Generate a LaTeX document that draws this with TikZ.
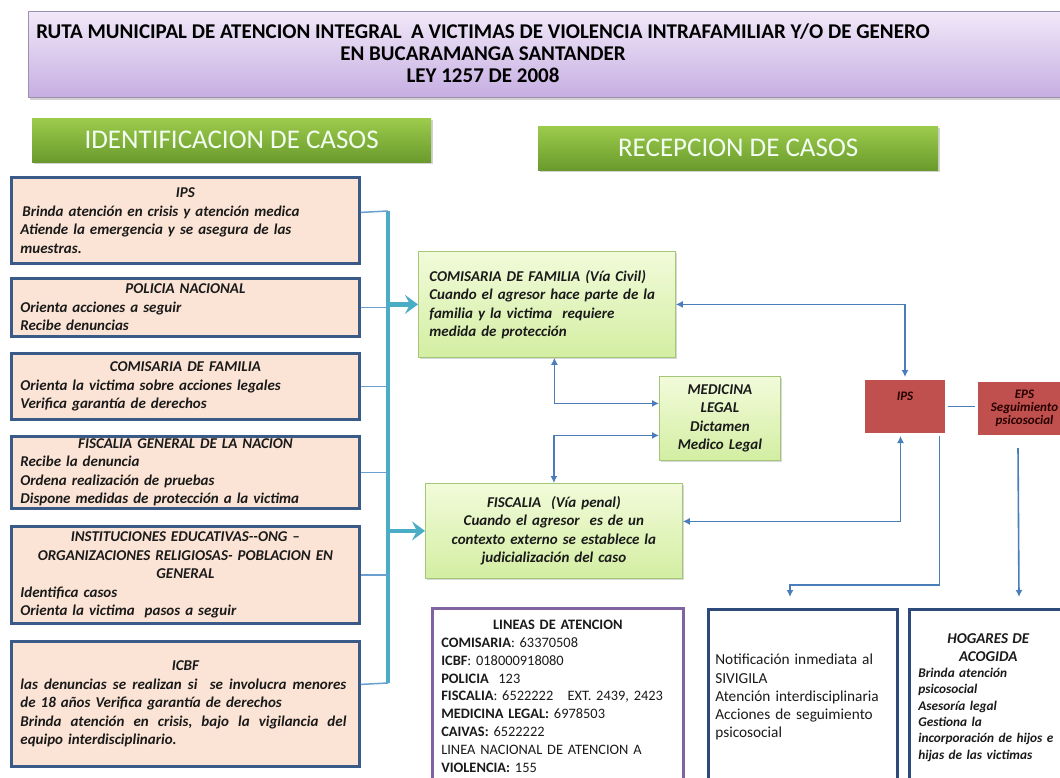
\documentclass[tikz,border=0pt]{standalone}
\usepackage{fontspec}
\setmainfont{Carlito}
\usetikzlibrary{arrows.meta,shadows,calc}
\definecolor{ttop}{HTML}{F1E8F8}
\definecolor{tbot}{HTML}{C6AEE2}
\definecolor{tborder}{HTML}{9C90AE}
\definecolor{gtop}{HTML}{9CCB4C}
\definecolor{gbot}{HTML}{6A9A2C}
\definecolor{peach}{HTML}{FBE4D5}
\definecolor{pborder}{HTML}{3A5A88}
\definecolor{ltop}{HTML}{F2FBDA}
\definecolor{lbot}{HTML}{D3EEA2}
\definecolor{lborder}{HTML}{A3C777}
\definecolor{redbox}{HTML}{C0504D}
\definecolor{cblue}{HTML}{4A7EBB}
\definecolor{teal}{HTML}{4BACC6}
\definecolor{lconnc}{HTML}{6A9FCF}
\definecolor{purpleb}{HTML}{8064A2}
\definecolor{navyb}{HTML}{2E4A7A}
\definecolor{txt}{HTML}{1A1A1A}
\begin{document}
\begin{tikzpicture}[x=1pt,y=-1pt,
  titlebox/.style={draw=tborder, line width=1.2pt, top color=ttop, bottom color=tbot, anchor=north west,
    drop shadow={shadow xshift=1.5pt, shadow yshift=-2pt, opacity=0.35}},
  banner/.style={top color=gtop, bottom color=gbot, anchor=north west, text=white!95!green,
    font=\fontsize{27}{30}\selectfont, drop shadow={shadow xshift=1.5pt, shadow yshift=-2pt, opacity=0.35}},
  pbox/.style={draw=pborder, line width=2.8pt, fill=peach, anchor=north west, minimum width=348pt,
    text width=330pt, inner xsep=9pt, inner ysep=2pt, align=left, text=txt,
    font=\fontsize{15}{18.5}\selectfont\bfseries\itshape},
  gbox/.style={draw=lborder, line width=0.8pt, top color=ltop, bottom color=lbot, anchor=north west,
    text=txt, font=\fontsize{15}{18.5}\selectfont\bfseries\itshape,
    drop shadow={shadow xshift=1.5pt, shadow yshift=-2pt, opacity=0.3}},
  rbox/.style={fill=redbox, draw=white, line width=3pt, anchor=north west, text=black!85!red,
    font=\fontsize{13}{13}\selectfont\bfseries\itshape, align=center,
    drop shadow={shadow xshift=1pt, shadow yshift=-1.5pt, opacity=0.35}},
  wbox/.style={line width=2.6pt, fill=white, anchor=north west, text=txt},
  conn/.style={draw=cblue, line width=1.6pt},
  arr/.style={-{Latex[length=7pt,width=7pt]}},
  darr/.style={{Latex[length=7pt,width=7pt]}-{Latex[length=7pt,width=7pt]}},
  lconn/.style={draw=lconnc, line width=1.5pt},
  bar/.style={draw=teal, line width=4.5pt},
  bigarr/.style={draw=teal, line width=4.5pt, -{Stealth[length=13pt,width=19pt,inset=5pt]}}
]
\useasboundingbox (0,0) rectangle (1060,777);
\clip (0,0) rectangle (1060,777);
\fill[white] (0,0) rectangle (1060,777);

% title
\node[titlebox, minimum width=1045pt, minimum height=86pt] (title) at (28,11) {};
\node[font=\fontsize{21}{22}\selectfont\bfseries, align=center, text=black] (ttext) at (483,53)
  {RUTA MUNICIPAL DE ATENCION INTEGRAL\ \ A VICTIMAS DE VIOLENCIA INTRAFAMILIAR Y/O DE GENERO\\
   EN BUCARAMANGA SANTANDER\\ LEY 1257 DE 2008};

% banners
\node[banner, minimum width=399pt, minimum height=44pt] (idban) at (32,118) {IDENTIFICACION DE CASOS};
\node[banner, minimum width=400pt, minimum height=44pt] (recban) at (538,126) {RECEPCION DE CASOS};

% left boxes
\node[pbox, minimum height=86pt] (b1) at (10,176)
  {{\centering IPS\par}\hspace*{2pt}Brinda atención en crisis y atención medica\\
   Atiende la emergencia y se asegura de las\\ muestras.};
\node[pbox, minimum height=58pt] (b2) at (10,277)
  {{\centering POLICIA NACIONAL\par}Orienta acciones a seguir\\ Recibe denuncias};
\node[pbox, minimum height=66pt] (b3) at (10,352)
  {{\centering COMISARIA DE FAMILIA\par}Orienta la victima sobre acciones legales\\ Verifica garantía de derechos};
\node[pbox, minimum height=72pt] (b4) at (10,435)
  {{\centering FISCALIA GENERAL DE LA NACION\par}Recibe la denuncia\\ Ordena realización de pruebas\\
   Dispone medidas de protección a la victima};
\node[pbox, minimum height=97pt] (b5) at (10,525)
  {{\centering INSTITUCIONES EDUCATIVAS-{}-ONG –\\ ORGANIZACIONES RELIGIOSAS- POBLACION EN\\ GENERAL\par}
   Identifica casos\\ Orienta la victima\ \ pasos a seguir};
\node[pbox, minimum height=125pt] (b6) at (10,640)
  {{\centering ICBF\par}\hbox to 326pt{las\hfill denuncias\hfill se\hfill realizan\hfill si\hfill\hfill se\hfill involucra\hfill menores}
   de 18 años Verifica garantía de derechos\\
   \hbox to 326pt{Brinda\hfill atención\hfill en\hfill crisis,\hfill bajo\hfill la\hfill vigilancia\hfill del}
   equipo interdisciplinario.};

% bar and connectors
\coordinate (bartop) at (388,211);
\coordinate (barbot) at (388,683);
\draw[bar] (bartop) -- (barbot);
\draw[lconn] ([yshift=8pt]b1.east) -- (bartop);
\draw[lconn] (b2.east) -- (b2.east -| bartop);
\draw[lconn] (b3.east) -- (b3.east -| bartop);
\draw[lconn] (b4.east) -- (b4.east -| bartop);
\draw[lconn] (b5.east) -- (b5.east -| bartop);
\draw[lconn] ([yshift=19.5pt]b6.east) -- (barbot);

% green boxes
\node[gbox, minimum width=257pt, minimum height=106pt, text width=235pt, inner xsep=11pt, align=left] (com) at (418,251)
  {COMISARIA DE FAMILIA (Vía Civil)\\ Cuando el agresor hace parte de la\\ familia y la victima\ \ requiere\\ medida de protección};
\node[gbox, minimum width=257pt, minimum height=95pt, text width=241pt, inner xsep=8pt, align=center] (fis) at (425,483)
  {FISCALIA\ \ (Vía penal)\\ Cuando el agresor\ \ es de un\\ contexto externo se establece la\\ judicialización del caso};
\node[gbox, minimum width=121pt, minimum height=84pt, text width=115pt, inner xsep=3pt, inner ysep=2pt, align=center] (med) at (659,376)
  {MEDICINA\\ LEGAL\\ Dictamen\\ Medico Legal};

\draw[bigarr] (com.west -| bartop) -- (com.west);
\draw[bigarr] (fis.west -| bartop) -- (fis.west);

% red boxes
\node[rbox, minimum width=83pt, minimum height=56pt, text height=9pt, text depth=21pt] (ips) at (862,377) {IPS};
\node[rbox, minimum width=96pt, minimum height=56pt, inner ysep=1pt] (eps) at (975,379) {EPS\\ Seguimiento\\ psicosocial};

% blue connectors
\draw[conn,darr] (com.east) -| (ips.north);
\draw[conn,darr] ([yshift=9.5pt]fis.east) -| ([xshift=-4.5pt]ips.south);
\draw[conn,darr] ([xshift=7.5pt]com.south) |- ([yshift=15pt]med.west);
\draw[conn,darr] ([yshift=-17pt]med.west) -| (fis.north);
\draw[conn] (ips.east) -- (ips.east -| eps.west);
\coordinate (ipsdn) at (790,597);
\coordinate (epsup) at (1018,448);
\coordinate (epsdn) at (1019,597);
\draw[conn,arr] ([xshift=34.5pt]ips.south) -- ++(0,149) -| (ipsdn);
\draw[conn,arr] (epsup) -- (epsdn);

% bottom boxes
\node[wbox, draw=purpleb, minimum width=251pt, minimum height=176pt, text width=233pt, inner xsep=9pt, align=left,
  font=\fontsize{14.4}{17.9}\selectfont] (lin) at (431,607)
  {{\centering\textbf{LINEAS DE ATENCION}\par}
   \textbf{COMISARIA}: 63370508\\
   \textbf{ICBF}: 018000918080\\
   \textbf{POLICIA}\ \ 123\\
   \textbf{FISCALIA}: 6522222\ \ \ EXT. 2439, 2423\\
   \textbf{MEDICINA LEGAL:} 6978503\\
   \textbf{CAIVAS:} 6522222\\
   LINEA NACIONAL DE ATENCION A\\
   \textbf{VIOLENCIA:} 155};
\node[wbox, draw=navyb, minimum width=189pt, minimum height=176pt, text width=175pt, inner xsep=7pt, align=left,
  font=\fontsize{15.3}{18.3}\selectfont] (not) at (707,608)
  {Notificación inmediata al\\ SIVIGILA\\ Atención interdisciplinaria\\ Acciones de seguimiento\\ psicosocial};
\node[wbox, draw=navyb, minimum width=158pt, minimum height=176pt, text width=140pt, inner xsep=9pt, align=left,
  font=\fontsize{13.3}{16.3}\selectfont\bfseries\itshape] (hog) at (908,608)
  {{\centering\fontsize{15}{18}\selectfont HOGARES DE\\ ACOGIDA\par}
   Brinda atención\\ psicosocial\\ Asesoría legal\\ Gestiona la\\ incorporación de hijos e\\ hijas de las victimas};
\end{tikzpicture}
\end{document}
